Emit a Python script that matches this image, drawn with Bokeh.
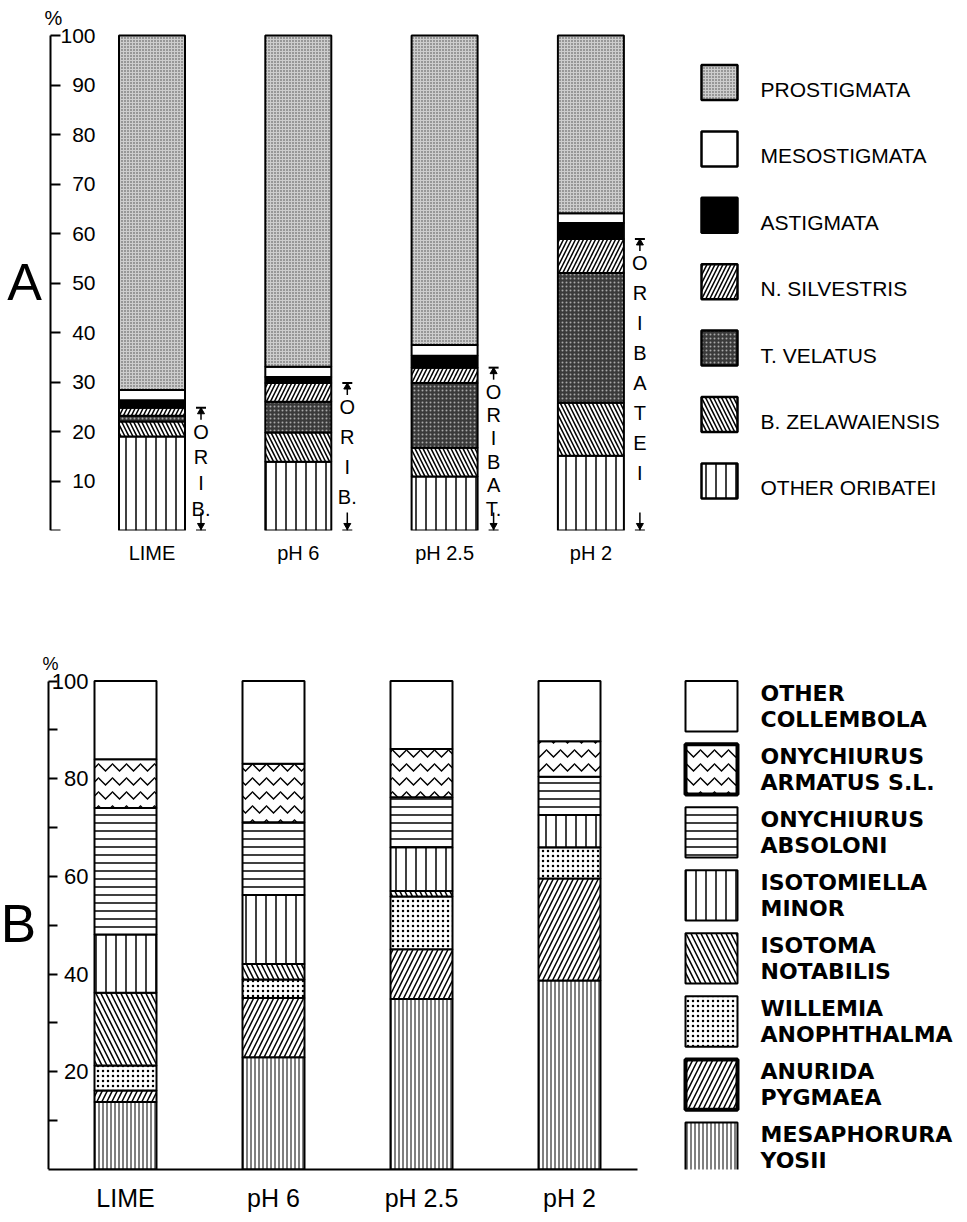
import re
from bokeh.plotting import figure
from bokeh.layouts import column
from bokeh.models import ColumnDataSource, FixedTicker, Range1d
from bokeh.core.properties import value
from bokeh.embed import file_html
from bokeh.resources import INLINE

# ---------------- data ----------------
treatments = ["LIME", "pH 6", "pH 2.5", "pH 2"]

# Panel A: composition of Acari (% of total), stacked bottom -> top
a_other_oribatei = [19.0, 13.9, 10.9, 15.1]
a_b_zelawaiensis = [3.0, 5.9, 5.8, 10.7]
a_t_velatus = [1.2, 6.2, 13.1, 26.2]
a_n_silvestris = [1.6, 3.8, 3.1, 6.9]
a_astigmata = [1.5, 1.2, 2.4, 3.2]
a_mesostigmata = [2.1, 2.1, 2.2, 2.0]
a_prostigmata = [71.6, 66.9, 62.5, 35.9]
a_ticks = [0, 10, 20, 30, 40, 50, 60, 70, 80, 90, 100]
a_names = ["OTHER ORIBATEI", "B. ZELAWAIENSIS", "T. VELATUS", "N. SILVESTRIS",
           "ASTIGMATA", "MESOSTIGMATA", "PROSTIGMATA"]
orib_text = ["ORIB.", "ORIB.", "ORIBAT.", "ORIBATEI"]

# Panel B: composition of Collembola (% of total), stacked bottom -> top
b_mesaphorura_yosii = [13.8, 23.0, 34.9, 38.7]
b_anurida_pygmaea = [2.4, 12.1, 10.2, 20.9]
b_willemia_anophthalma = [5.1, 3.8, 10.8, 6.4]
b_isotoma_notabilis = [14.9, 3.2, 1.1, 0.0]
b_isotomiella_minor = [11.9, 14.1, 9.0, 6.6]
b_onychiurus_absoloni = [25.9, 14.9, 10.2, 7.8]
b_onychiurus_armatus = [10.0, 12.0, 9.9, 7.3]
b_other_collembola = [16.0, 16.9, 13.9, 12.3]
b_major_ticks = [20, 40, 60, 80, 100]
b_minor_ticks = [10, 30, 50, 70, 90]
b_names = ["MESAPHORURA\nYOSII", "ANURIDA\nPYGMAEA", "WILLEMIA\nANOPHTHALMA",
           "ISOTOMA\nNOTABILIS", "ISOTOMIELLA\nMINOR", "ONYCHIURUS\nABSOLONI",
           "ONYCHIURUS\nARMATUS S.L.", "OTHER\nCOLLEMBOLA"]

# ---------------- styles ----------------
A_KEYS = ["other_oribatei", "b_zelawaiensis", "t_velatus", "n_silvestris",
          "astigmata", "mesostigmata", "prostigmata"]
A_FILL = ["white", "white", "#3a3a3a", "white", "black", "white", "#cdcdcd"]
A_HATCH = ["|", "\\", ".", "/", " ", " ", "."]
A_HCOL = ["black", "black", "#a8a8a8", "black", "black", "black", "#444444"]
A_HSCALE = [10, 8, 4, 8, 12, 12, 3]
A_HWEIGHT = [1.5, 1.5, 1, 1.5, 1, 1, 1]

B_KEYS = ["mesaphorura_yosii", "anurida_pygmaea", "willemia_anophthalma",
          "isotoma_notabilis", "isotomiella_minor", "onychiurus_absoloni",
          "onychiurus_armatus", "other_collembola"]
B_HATCH = ["|", "/", ".", "\\", "|", "-", "v", " "]
B_HSCALE = [4, 10, 5, 10, 10, 8, 14, 12]
B_HWEIGHT = [1, 1.5, 1, 1.5, 1.5, 1.5, 1.5, 1]
B_LEG_LW = [2, 4, 2, 2, 2, 2, 4, 2]

FONT = "Liberation Sans"
WIDTH = 960
PPU = 4.95                      # px per percent, both panels

# ---------------- layout helpers (image pixel -> data) ----------------
A_H = 578
A_ZERO = 530                    # image y of 0 % in panel A
A_AXIS_X = 50
A_UNIT, A_C0 = 146.3, 151.5     # px per category, image x of first bar


def xA(px):
    return 1 + (px - A_C0) / A_UNIT


def yA(py):
    return (A_ZERO - py) / PPU


B_H = 636
B_FIG_TOP = A_H
B_ZERO = 1177
B_AXIS_X = 48
B_UNIT, B_C0 = 148.0, 125.0


def xB(px):
    return 1 + (px - B_C0) / B_UNIT


def yB(py):
    return (B_ZERO - py) / PPU


xs = list(range(1, len(treatments) + 1))
overrides = {x: t for x, t in zip(xs, treatments)}

# ================= Panel A =================
pA = figure(width=WIDTH, height=A_H, output_backend="svg", toolbar_location=None,
            x_range=Range1d(xA(0), xA(WIDTH)), y_range=Range1d(0, yA(0)),
            min_border_left=0, min_border_right=0, min_border_top=0,
            min_border_bottom=A_H - A_ZERO)
pA.outline_line_color = None
pA.grid.visible = False

srcA = ColumnDataSource(dict(x=xs, other_oribatei=a_other_oribatei,
                             b_zelawaiensis=a_b_zelawaiensis, t_velatus=a_t_velatus,
                             n_silvestris=a_n_silvestris, astigmata=a_astigmata,
                             mesostigmata=a_mesostigmata, prostigmata=a_prostigmata))
pA.vbar_stack(A_KEYS, x="x", width=66 / A_UNIT, source=srcA, fill_color=A_FILL,
              hatch_pattern=A_HATCH, hatch_color=A_HCOL, hatch_scale=A_HSCALE,
              hatch_weight=A_HWEIGHT, line_color="black", line_width=2)

ya = pA.yaxis[0]
ya.fixed_location = xA(A_AXIS_X)
ya.bounds = (0, 100)
ya.ticker = FixedTicker(ticks=a_ticks, minor_ticks=[])
ya.major_label_overrides = {0: ""}
ya.major_tick_in = 10
ya.major_tick_out = 0
ya.minor_tick_line_color = None
ya.axis_line_width = 2
ya.major_tick_line_width = 2
ya.major_label_standoff = -45
ya.major_label_text_font = FONT
ya.major_label_text_font_size = "21px"
ya.major_label_text_color = "black"

xa = pA.xaxis[0]
xa.ticker = FixedTicker(ticks=xs, minor_ticks=[])
xa.major_label_overrides = overrides
xa.axis_line_color = None
xa.major_tick_line_color = None
xa.minor_tick_line_color = None
xa.major_label_standoff = 5
xa.major_label_text_font = FONT
xa.major_label_text_font_size = "20px"
xa.major_label_text_color = "black"

# legend A (top -> bottom)
nA = len(A_KEYS)
legA = ColumnDataSource(dict(
    x=[xA(719)] * nA,
    y=[yA(82 + 66.4 * i) for i in range(nA)],
    ty=[yA(89 + 66.4 * i) for i in range(nA)],
    tx=[xA(760)] * nA,
    text=a_names[::-1], fill=A_FILL[::-1], hatch=A_HATCH[::-1], hcol=A_HCOL[::-1],
    hscale=A_HSCALE[::-1], hweight=A_HWEIGHT[::-1]))
pA.rect(x="x", y="y", width=36 / A_UNIT, height=35 / PPU, source=legA,
        fill_color="fill", hatch_pattern="hatch", hatch_color="hcol",
        hatch_scale="hscale", hatch_weight="hweight", line_color="black", line_width=2.5)
pA.text(x="tx", y="ty", text="text", source=legA, text_font=value(FONT),
        text_font_size="21px", text_baseline="middle", text_align="left", text_color="black")

# ORIBATEI brackets
orib_total = [sum(v) for v in zip(a_other_oribatei, a_b_zelawaiensis, a_t_velatus, a_n_silvestris)]
lx, ly, lt = [], [], []
hx0, hx1, hy = [], [], []
sx0, sy0, sy1 = [], [], []
tri_x, tri_y, itri_x, itri_y = [], [], [], []
for i, (tot, word) in enumerate(zip(orib_total, orib_text)):
    toks = re.findall(r"[A-Z]\.?", word)
    cx_px = A_C0 + i * A_UNIT + 33 + 16
    cx = xA(cx_px)
    top_px = A_ZERO - tot * PPU
    first = top_px + 24
    last = min(first + 30 * (len(toks) - 1), A_ZERO - 22)
    step = (last - first) / (len(toks) - 1)
    for k, t in enumerate(toks):
        lx.append(cx)
        ly.append(yA(first + k * step))
        lt.append(t)
    hx0 += [xA(cx_px - 5), xA(cx_px - 5)]
    hx1 += [xA(cx_px + 5), xA(cx_px + 5)]
    hy += [tot, 0]
    sx0 += [cx, cx]
    sy0 += [tot, yA(A_ZERO - 18)]
    sy1 += [yA(top_px + 12), 0]
    tri_x.append(cx)
    tri_y.append(yA(top_px + 4))
    itri_x.append(cx)
    itri_y.append(yA(A_ZERO - 5))

pA.text(x=lx, y=ly, text=lt, text_font=value(FONT), text_font_size="20px",
        text_align="center", text_baseline="middle", text_color="black")
pA.segment(x0=hx0, y0=hy, x1=hx1, y1=hy, line_color="black", line_width=2)
pA.segment(x0=sx0, y0=sy0, x1=sx0, y1=sy1, line_color="black", line_width=1.5)
pA.scatter(x=tri_x, y=tri_y, marker="triangle", size=7, color="black")
pA.scatter(x=itri_x, y=itri_y, marker="inverted_triangle", size=7, color="black")

pA.text(x=[xA(53)], y=[yA(17)], text=["%"], text_font=value(FONT), text_font_size="20px",
        text_align="center", text_baseline="middle", text_color="black")
pA.text(x=[xA(24)], y=[yA(281)], text=["A"], text_font=value(FONT), text_font_size="52px",
        text_align="center", text_baseline="middle", text_color="black")

# ================= Panel B =================
pB = figure(width=WIDTH, height=B_H, output_backend="svg", toolbar_location=None,
            x_range=Range1d(xB(0), xB(WIDTH)), y_range=Range1d(0, yB(B_FIG_TOP)),
            min_border_left=0, min_border_right=0, min_border_top=0,
            min_border_bottom=B_H - (B_ZERO - B_FIG_TOP))
pB.outline_line_color = None
pB.grid.visible = False

srcB = ColumnDataSource(dict(x=xs, mesaphorura_yosii=b_mesaphorura_yosii,
                             anurida_pygmaea=b_anurida_pygmaea,
                             willemia_anophthalma=b_willemia_anophthalma,
                             isotoma_notabilis=b_isotoma_notabilis,
                             isotomiella_minor=b_isotomiella_minor,
                             onychiurus_absoloni=b_onychiurus_absoloni,
                             onychiurus_armatus=b_onychiurus_armatus,
                             other_collembola=b_other_collembola))
pB.vbar_stack(B_KEYS, x="x", width=62 / B_UNIT, source=srcB, fill_color="white",
              hatch_pattern=B_HATCH, hatch_color="black", hatch_scale=B_HSCALE,
              hatch_weight=B_HWEIGHT, line_color="black", line_width=2)

yb = pB.yaxis[0]
yb.fixed_location = xB(B_AXIS_X)
yb.bounds = (0, 100)
yb.ticker = FixedTicker(ticks=b_major_ticks, minor_ticks=b_minor_ticks)
yb.major_tick_in = 9
yb.major_tick_out = 0
yb.minor_tick_in = 9
yb.minor_tick_out = 0
yb.axis_line_width = 2
yb.major_tick_line_width = 2
yb.minor_tick_line_width = 2
yb.major_label_standoff = -40
yb.major_label_text_font = FONT
yb.major_label_text_font_size = "22px"
yb.major_label_text_color = "black"

xb = pB.xaxis[0]
xb.ticker = FixedTicker(ticks=xs, minor_ticks=[])
xb.major_label_overrides = overrides
xb.bounds = (xB(B_AXIS_X), xB(637))
xb.axis_line_width = 2
xb.major_tick_line_color = None
xb.minor_tick_line_color = None
xb.major_label_standoff = 8
xb.major_label_text_font = FONT
xb.major_label_text_font_size = "25px"
xb.major_label_text_color = "black"

nB = len(B_KEYS)
legB = ColumnDataSource(dict(
    x=[xB(711)] * nB,
    y=[yB(707.5 + 63.9 * i) for i in range(nB)],
    tx=[xB(760)] * nB,
    text=b_names[::-1], hatch=B_HATCH[::-1], hscale=B_HSCALE[::-1],
    hweight=B_HWEIGHT[::-1], lw=B_LEG_LW))
pB.rect(x="x", y="y", width=52 / B_UNIT, height=51 / PPU, source=legB,
        fill_color="white", hatch_pattern="hatch", hatch_color="black",
        hatch_scale="hscale", hatch_weight="hweight", line_color="black", line_width="lw")
pB.text(x="tx", y="y", text="text", source=legB, text_font=value("DejaVu Sans"),
        text_font_style="bold", text_font_size="22px", text_line_height=1.05,
        text_baseline="middle", text_align="left", text_color="black")

pB.text(x=[xB(50)], y=[yB(665)], text=["%"], text_font=value(FONT), text_font_size="18px",
        text_align="center", text_baseline="middle", text_color="black")
pB.text(x=[xB(18)], y=[yB(928)], text=["B"], text_font=value(FONT), text_font_size="53px",
        text_align="center", text_baseline="middle", text_color="black")

layout = column(pA, pB)
open("out.html", "w").write(file_html(layout, INLINE))
